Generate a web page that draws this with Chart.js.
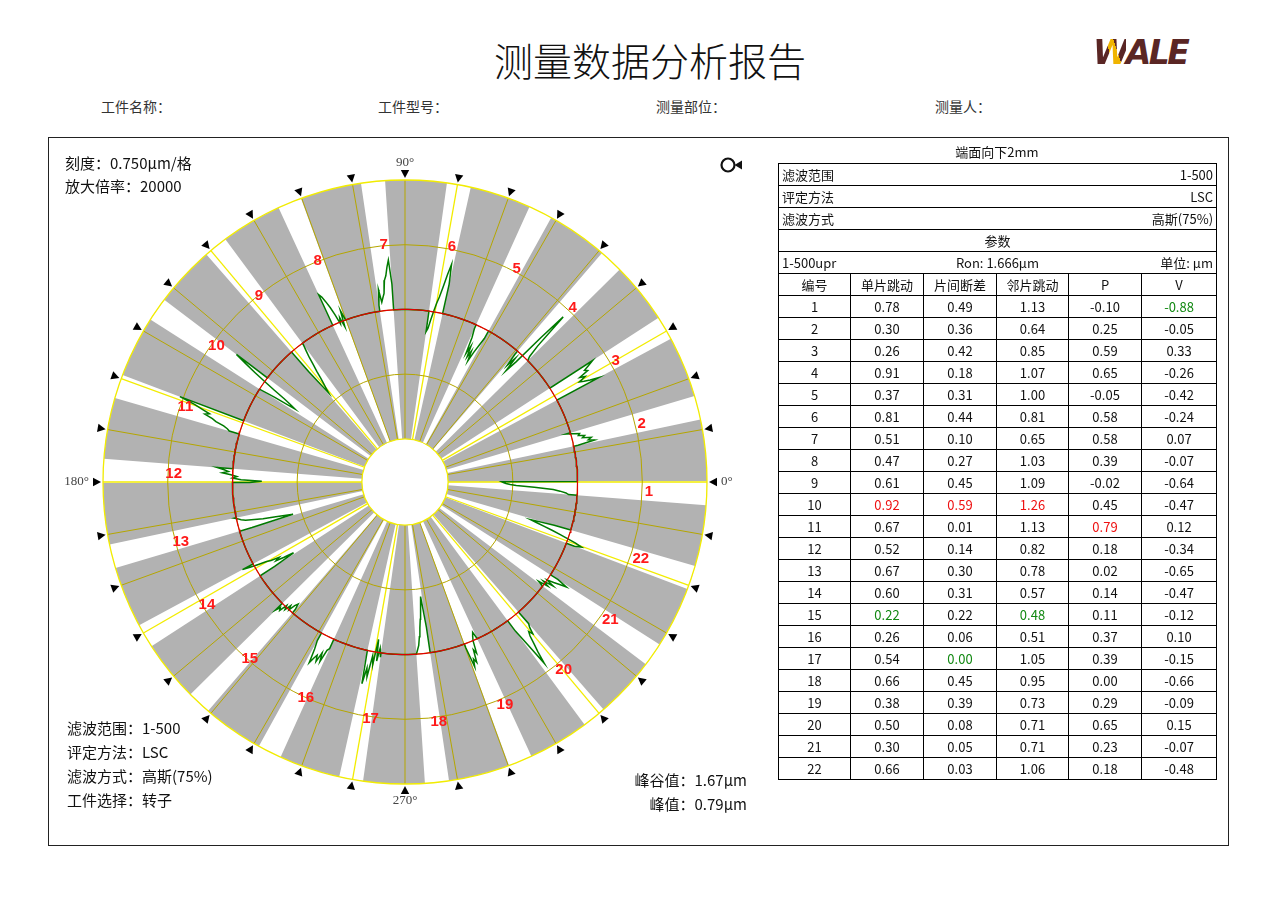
<!DOCTYPE html>
<html><head><meta charset="utf-8">
<script src="https://cdn.jsdelivr.net/npm/chart.js@4.4.0/dist/chart.umd.min.js"></script>
<style>
body{margin:0;width:1280px;height:906px;background:#fff;position:relative;overflow:hidden;font-family:"Noto Sans CJK SC","Noto Sans",sans-serif;color:#111;}
.abs{position:absolute;white-space:nowrap;z-index:2;}
#title{left:0;width:1300px;text-align:center;top:32px;font-size:39px;line-height:54px;color:#111;font-weight:300;}
#logo{left:1093px;top:31px;font:oblique bold 33px "DejaVu Sans",sans-serif;letter-spacing:-2.5px;color:#5a2624;line-height:44px;}
#logo .w{background:linear-gradient(72deg,#5a2624 0,#5a2624 50%,#f0b400 50%,#f0b400 68%,#5a2624 68%);-webkit-background-clip:text;background-clip:text;color:transparent;}
.hdr{top:96px;font-size:14px;line-height:20px;color:#333;}
#frame{position:absolute;left:48px;top:137px;width:1179px;height:707px;border:1px solid #222;z-index:0;}
#chartWrap{position:absolute;left:45px;top:122px;width:720px;height:720px;z-index:1;}
.info{font-size:15px;line-height:24px;color:#111;}
#tbl{left:778px;top:140px;width:438px;font-size:13px;color:#111;}
#tbl .cap{height:23px;line-height:23px;text-align:center;}
#tbl table{border-collapse:collapse;width:438px;table-layout:fixed;}
#tbl td{border:1px solid #000;padding:0 3px;line-height:20px;text-align:center;white-space:nowrap;overflow:hidden;}
#tbl tr{height:22px;}
#tbl .split{display:flex;justify-content:space-between;}
#tbl .tri{display:grid;grid-template-columns:1fr auto 1fr;}
#tbl .tri span:last-child{text-align:right;}
#tbl .tri span:first-child{text-align:left;}
</style></head>
<body>
<div id="frame"></div>
<div id="title" class="abs">测量数据分析报告</div>
<div id="logo" class="abs"><span class="w">W</span>ALE</div>
<div class="abs hdr" style="left:101px">工件名称：</div>
<div class="abs hdr" style="left:378px">工件型号：</div>
<div class="abs hdr" style="left:656px">测量部位：</div>
<div class="abs hdr" style="left:935px">测量人：</div>

<div id="chartWrap"><canvas id="c" width="720" height="720"></canvas></div>

<div class="abs info" style="left:65px;top:151px">刻度：0.750μm/格</div>
<div class="abs info" style="left:65px;top:174px">放大倍率：20000</div>
<div class="abs info" style="left:67px;top:716px">滤波范围：1-500</div>
<div class="abs info" style="left:67px;top:740px">评定方法：LSC</div>
<div class="abs info" style="left:67px;top:764px">滤波方式：高斯(75%)</div>
<div class="abs info" style="left:67px;top:788px">工件选择：转子</div>
<div class="abs info" style="right:533px;top:768px;text-align:right">峰谷值：1.67μm</div>
<div class="abs info" style="right:533px;top:792px;text-align:right">峰值：0.79μm</div>

<svg class="abs" style="left:718px;top:156px" width="30" height="20" viewBox="0 0 30 20">
  <circle cx="10" cy="9" r="6.5" fill="none" stroke="#111" stroke-width="2.2"/>
  <polygon points="16.5,9 24,4.5 24,13.5" fill="#111"/>
</svg>

<div id="tbl" class="abs"></div>

<script>
// ---------- data ----------
const bladeIds = [1,2,3,4,5,6,7,8,9,10,11,12,13,14,15,16,17,18,19,20,21,22];
const singleRunout = [0.78,0.30,0.26,0.91,0.37,0.81,0.51,0.47,0.61,0.92,0.67,0.52,0.67,0.60,0.22,0.26,0.54,0.66,0.38,0.50,0.30,0.66];
const stepDiff     = [0.49,0.36,0.42,0.18,0.31,0.44,0.10,0.27,0.45,0.59,0.01,0.14,0.30,0.31,0.22,0.06,0.00,0.45,0.39,0.08,0.05,0.03];
const adjRunout    = [1.13,0.64,0.85,1.07,1.00,0.81,0.65,1.03,1.09,1.26,1.13,0.82,0.78,0.57,0.48,0.51,1.05,0.95,0.73,0.71,0.71,1.06];
const peakP        = [-0.10,0.25,0.59,0.65,-0.05,0.58,0.58,0.39,-0.02,0.45,0.79,0.18,0.02,0.14,0.11,0.37,0.39,0.00,0.29,0.65,0.23,0.18];
const valleyV      = [-0.88,-0.05,0.33,-0.26,-0.42,-0.24,0.07,-0.07,-0.64,-0.47,0.12,-0.34,-0.65,-0.47,-0.12,0.10,-0.15,-0.66,-0.09,0.15,-0.07,-0.48];
const tableHeaders = ['编号','单片跳动','片间断差','邻片跳动','P','V'];
const highlightRule = ['both','both','both','max','min'];

// measured profile across each blade gap (deviation, μm), ordered by increasing angle
const profiles = [
  [-0.10,-0.13,-0.20,-0.28,-0.50,-0.71,-0.78,-0.83,-0.86,-0.88],
  [0.05,0.25,0.18,0.22,0.12,0.15,0.08,0.10,0.02,-0.05],
  [0.55,0.45,0.38,0.33,0.42,0.36,0.48,0.45,0.52,0.59],
  [0.00,0.05,0.20,0.65,0.30,-0.10,-0.26,-0.08,-0.20,-0.05],
  [-0.10,-0.20,-0.30,-0.42,-0.30,-0.38,-0.25,-0.35,-0.15,-0.05],
  [0.35,0.58,0.45,0.30,0.18,0.10,0.00,-0.10,-0.20,-0.24],
  [0.30,0.58,0.50,0.40,0.35,0.20,0.15,0.10,0.25,0.07],
  [0.00,0.12,-0.07,0.05,-0.02,0.10,0.20,0.28,0.35,0.39],
  [-0.02,-0.10,-0.18,-0.28,-0.36,-0.45,-0.52,-0.58,-0.64,-0.30],
  [0.45,0.30,0.15,0.00,-0.15,-0.30,-0.40,-0.47,-0.20,0.00],
  [0.79,0.60,0.50,0.40,0.45,0.35,0.30,0.20,0.15,0.12],
  [0.18,0.10,0.05,0.12,0.02,-0.05,0.00,-0.10,-0.34,-0.20],
  [0.02,-0.02,-0.05,-0.10,-0.20,-0.30,-0.45,-0.55,-0.65,-0.15],
  [0.14,0.05,-0.05,-0.15,-0.20,-0.30,-0.25,-0.35,-0.47,-0.20],
  [0.11,0.05,0.08,-0.02,0.03,-0.05,0.00,-0.08,-0.12,-0.05],
  [0.10,0.20,0.37,0.30,0.25,0.32,0.20,0.30,0.15,0.12],
  [0.00,0.39,0.20,0.30,0.05,0.15,-0.15,0.10,-0.05,0.05],
  [0.00,-0.05,-0.10,-0.20,-0.30,-0.40,-0.50,-0.60,-0.66,-0.30],
  [0.05,0.29,0.20,0.25,0.10,0.15,0.00,-0.05,-0.09,0.00],
  [0.15,0.35,0.65,0.50,0.40,0.30,0.25,0.30,0.22,0.18],
  [0.00,-0.07,0.05,-0.03,0.10,0.00,0.08,0.15,0.23,0.10],
  [0.10,0.18,0.10,0.00,-0.10,-0.20,-0.30,-0.40,-0.48,-0.20]
];
const radialTicks = [0.5,1.25,2.0,2.75,3.5];   // μm, 0.75 μm per grid
const referenceR = 2.0;
const spokeStepDeg = 10;
const brightSpokes = [0,30,80,130,160,180,210,260,310,340];
const axisLabels = [{deg:0,text:'0°'},{deg:90,text:'90°'},{deg:180,text:'180°'},{deg:270,text:'270°'}];

// ---------- geometry ----------
const DEG = Math.PI/180;
const N = bladeIds.length;
const pitch = 360/N;
const firstGapCenter = -2.1;
const gapWidth = 4.6;
const pxPerUnit = 302/3.5;
const HALF = 360/pxPerUnit;
const gapStart = k => firstGapCenter + k*pitch - gapWidth/2;
const gapEnd = k => firstGapCenter + k*pitch + gapWidth/2;
const pt = (R,a) => ({x:R*Math.cos(a*DEG), y:R*Math.sin(a*DEG)});

const circlePts = [];
for (let a=0;a<=360;a+=1) circlePts.push(pt(referenceR,a));

const trace = [];
for (let k=0;k<N;k++){
  const s=gapStart(k), e=gapEnd(k), prevE=gapEnd(k-1);
  for (let a=prevE;a<s;a+=1) trace.push(pt(referenceR,a));
  trace.push(pt(referenceR,s));
  const p = profiles[k];
  p.forEach((d,i)=>trace.push(pt(referenceR+d, s + i*(e-s)/(p.length-1))));
  trace.push(pt(referenceR,e));
}

const OLIVE='#b5a600', BRIGHT='#f2ec00';

const rotorPlugin = {
  id:'rotorGrid',
  beforeDatasetsDraw(chart){
    const {ctx, scales:{x,y}} = chart;
    const cx=x.getPixelForValue(0), cy=y.getPixelForValue(0);
    const rp = R => x.getPixelForValue(R)-cx;
    const rIn=rp(radialTicks[0]), rOut=rp(radialTicks[radialTicks.length-1]);
    ctx.save();
    ctx.beginPath();
    ctx.arc(cx,cy,rOut,0,2*Math.PI,false);
    ctx.arc(cx,cy,rIn,0,2*Math.PI,true);
    ctx.fillStyle='#b2b2b2'; ctx.fill();
    ctx.fillStyle='#ffffff';
    for (let k=0;k<N;k++){
      const s=gapStart(k), e=gapEnd(k);
      ctx.beginPath();
      ctx.arc(cx,cy,rOut,-e*DEG,-s*DEG,false);
      ctx.arc(cx,cy,rIn,-s*DEG,-e*DEG,true);
      ctx.closePath(); ctx.fill();
    }
    for (let a=0;a<360;a+=spokeStepDeg){
      const bright = brightSpokes.includes(a);
      ctx.strokeStyle = bright?BRIGHT:OLIVE;
      ctx.lineWidth = bright?1.3:1;
      ctx.beginPath();
      ctx.moveTo(cx+rIn*Math.cos(a*DEG), cy-rIn*Math.sin(a*DEG));
      ctx.lineTo(cx+rOut*Math.cos(a*DEG), cy-rOut*Math.sin(a*DEG));
      ctx.stroke();
    }
    radialTicks.forEach((R,i)=>{
      const edge = (i===0||i===radialTicks.length-1);
      ctx.strokeStyle = edge?BRIGHT:OLIVE;
      ctx.lineWidth = edge?1.3:1;
      ctx.beginPath(); ctx.arc(cx,cy,rp(R),0,2*Math.PI); ctx.stroke();
    });
    ctx.restore();
  },
  afterDatasetsDraw(chart){
    const {ctx, scales:{x,y}} = chart;
    const cx=x.getPixelForValue(0), cy=y.getPixelForValue(0);
    const rp = R => x.getPixelForValue(R)-cx;
    const rOut=rp(radialTicks[radialTicks.length-1]);
    ctx.save();
    ctx.fillStyle='#000';
    for (let a=0;a<360;a+=spokeStepDeg){
      const c=Math.cos(a*DEG), s=Math.sin(a*DEG);
      const r1=rOut+2, r2=rOut+10, h=4.2;
      ctx.beginPath();
      ctx.moveTo(cx+r1*c, cy-r1*s);
      ctx.lineTo(cx+r2*c - h*s, cy-r2*s - h*c);
      ctx.lineTo(cx+r2*c + h*s, cy-r2*s + h*c);
      ctx.closePath(); ctx.fill();
    }
    ctx.font='13px "Liberation Serif", serif';
    ctx.fillStyle='#444'; ctx.textBaseline='middle';
    axisLabels.forEach(l=>{
      const c=Math.cos(l.deg*DEG), s=Math.sin(l.deg*DEG);
      const r = (l.deg%180===0)? rOut+14 : rOut+17;
      ctx.textAlign = l.deg===0?'left':(l.deg===180?'right':'center');
      ctx.fillText(l.text, cx+r*c, cy-r*s);
    });
    ctx.font='bold 15px "Liberation Sans", sans-serif';
    ctx.fillStyle='#ff1a1a'; ctx.textAlign='left'; ctx.textBaseline='middle';
    const rl = rp(2.78);
    bladeIds.forEach((id,k)=>{
      const a = firstGapCenter + k*pitch;
      ctx.fillText(String(id), cx+rl*Math.cos(a*DEG), cy-rl*Math.sin(a*DEG)+1);
    });
    ctx.restore();
  }
};

new Chart(document.getElementById('c').getContext('2d'), {
  type:'scatter',
  data:{datasets:[
    {data:circlePts, showLine:true, borderColor:'#e00000', borderWidth:1.2, pointRadius:0, tension:0},
    {data:trace, showLine:true, borderColor:'#007a00', borderWidth:1.5, pointRadius:0, tension:0}
  ]},
  options:{
    responsive:false, animation:false, events:[],
    layout:{padding:0},
    plugins:{legend:{display:false}, tooltip:{enabled:false}},
    scales:{
      x:{type:'linear', min:-HALF, max:HALF, display:false},
      y:{type:'linear', min:-HALF, max:HALF, display:false}
    }
  },
  plugins:[rotorPlugin]
});

// ---------- table ----------
const cols = [singleRunout, stepDiff, adjRunout, peakP, valleyV];
const colW = [72,73,73,72,73,75];
let html = '<div class="cap">端面向下2mm</div><table><colgroup>'+colW.map(w=>`<col style="width:${w}px">`).join('')+'</colgroup>';
const meta = [['滤波范围','1-500'],['评定方法','LSC'],['滤波方式','高斯(75%)']];
meta.forEach(m=>{ html += `<tr><td colspan="6"><div class="split"><span>${m[0]}</span><span>${m[1]}</span></div></td></tr>`; });
html += '<tr><td colspan="6">参数</td></tr>';
html += '<tr><td colspan="6"><div class="tri"><span>1-500upr</span><span>Ron: 1.666μm</span><span>单位: μm</span></div></td></tr>';
html += '<tr>'+tableHeaders.map(h=>`<td>${h}</td>`).join('')+'</tr>';
const ext = cols.map(c=>({max:Math.max(...c), min:Math.min(...c)}));
bladeIds.forEach((id,i)=>{
  html += `<tr><td>${id}</td>`;
  cols.forEach((c,j)=>{
    const v=c[i], rule=highlightRule[j];
    let color='';
    if ((rule==='both'||rule==='max') && v===ext[j].max) color='#ee1111';
    if ((rule==='both'||rule==='min') && v===ext[j].min) color='#118811';
    html += `<td style="${color?'color:'+color:''}">${v.toFixed(2)}</td>`;
  });
  html += '</tr>';
});
html += '</table>';
document.getElementById('tbl').innerHTML = html;
</script>
</body></html>
